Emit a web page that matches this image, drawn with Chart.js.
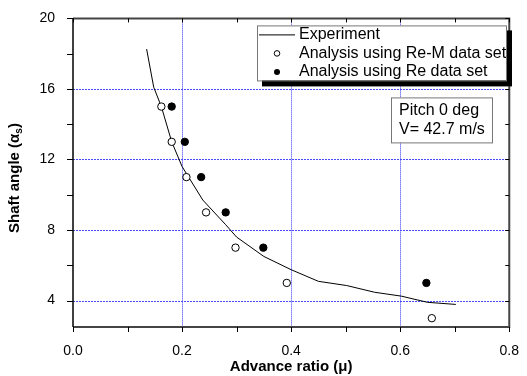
<!DOCTYPE html>
<html>
<head>
<meta charset="utf-8">
<script src="https://cdn.jsdelivr.net/npm/chart.js@4.4.1/dist/chart.umd.min.js"></script>
<style>
  body { margin: 0; background: #fff; }
  #wrap { width: 527px; height: 376px; position: relative; }
</style>
</head>
<body>
<div id="wrap"><canvas id="grafico"></canvas></div>
<script>
// dados
const expMu    = [0.135, 0.148, 0.162, 0.181, 0.200, 0.238, 0.280, 0.300, 0.350, 0.400, 0.450, 0.502, 0.553, 0.602, 0.650, 0.702];
const expAlpha = [18.26, 16.1, 15.0, 13.0, 11.6, 9.7, 8.3, 7.6, 6.5, 5.75, 5.09, 4.85, 4.47, 4.25, 3.9, 3.78];

const remMu    = [0.162, 0.181, 0.208, 0.244, 0.298, 0.392, 0.658];
const remAlpha = [15, 13, 11, 9, 7, 5, 3];

const reMu     = [0.181, 0.205, 0.235, 0.280, 0.349, 0.648];
const reAlpha  = [15, 13, 11, 9, 7, 5];

const xTicks = [0, 0.2, 0.4, 0.6, 0.8];
const xMinor = [0.1, 0.3, 0.5, 0.7];
const yTicks = [4, 8, 12, 16, 20];
const yMinor = [6, 10, 14, 18];

const legendItens = ['Experiment', 'Analysis using Re-M data set', 'Analysis using Re data set'];
const notaLinhas = ['Pitch 0 deg', 'V= 42.7 m/s'];

const pares = (xs, ys) => xs.map((x, i) => ({x: x, y: ys[i]}));

const fonte = '"Liberation Sans", Arial, sans-serif';

// grade pontilhada, moldura, ticks, legenda e titulos
const extras = {
  id: 'extras',
  beforeDatasetsDraw(chart) {
    const ctx = chart.ctx, a = chart.chartArea;
    const sx = chart.scales.x, sy = chart.scales.y;
    ctx.save();
    ctx.strokeStyle = '#2f2fff';
    ctx.lineWidth = 1;
    ctx.setLineDash([1, 1]);
    [0.2, 0.4, 0.6].forEach(v => {
      const px = Math.round(sx.getPixelForValue(v)) + 0.5;
      ctx.beginPath(); ctx.moveTo(px, a.top); ctx.lineTo(px, a.bottom); ctx.stroke();
    });
    ctx.setLineDash([2, 1]);
    ctx.strokeStyle = '#4a4aff';
    [4, 8, 12, 16].forEach(v => {
      const py = Math.round(sy.getPixelForValue(v)) + 0.5;
      ctx.beginPath(); ctx.moveTo(a.left, py); ctx.lineTo(a.right, py); ctx.stroke();
    });
    ctx.restore();
  },
  afterDatasetsDraw(chart) {
    const ctx = chart.ctx, a = chart.chartArea;
    const sx = chart.scales.x, sy = chart.scales.y;
    ctx.save();
    // moldura
    ctx.strokeStyle = '#444';
    ctx.lineWidth = 2;
    ctx.beginPath();
    ctx.moveTo(a.left, a.top); ctx.lineTo(a.right, a.top);
    ctx.lineTo(a.right, a.bottom); ctx.lineTo(a.left, a.bottom);
    ctx.stroke();
    ctx.strokeStyle = '#000';
    ctx.lineWidth = 1.5;
    ctx.beginPath(); ctx.moveTo(a.left, a.top); ctx.lineTo(a.left, a.bottom); ctx.stroke();
    ctx.lineWidth = 1;
    // ticks esquerda/baixo para fora, topo/direita para dentro
    xTicks.concat(xMinor).forEach(v => {
      const px = Math.round(sx.getPixelForValue(v)) + 0.5;
      ctx.beginPath(); ctx.moveTo(px, a.bottom); ctx.lineTo(px, a.bottom + 5); ctx.stroke();
      ctx.beginPath(); ctx.moveTo(px, a.top); ctx.lineTo(px, a.top + 4); ctx.stroke();
    });
    yTicks.concat(yMinor).forEach(v => {
      const py = Math.round(sy.getPixelForValue(v)) + 0.5;
      ctx.beginPath(); ctx.moveTo(a.left - 6, py); ctx.lineTo(a.left, py); ctx.stroke();
      ctx.beginPath(); ctx.moveTo(a.right - 4, py); ctx.lineTo(a.right, py); ctx.stroke();
    });

    // legenda com sombra
    const lx = a.left + 184, ly = a.top + 7, lw = 249, lh = 55;
    ctx.fillStyle = '#000';
    ctx.fillRect(lx + 5, ly + 5, lw + 1, lh + 1);
    ctx.fillStyle = '#fff';
    ctx.fillRect(lx, ly, lw, lh);
    ctx.strokeStyle = '#777';
    ctx.strokeRect(lx + 0.5, ly + 0.5, lw, lh);
    ctx.font = '16px ' + fonte;
    ctx.textBaseline = 'middle';
    ctx.fillStyle = '#000';
    legendItens.forEach((t, i) => {
      const cy = ly + 9.5 + i * 18.5;
      ctx.fillText(t, lx + 42, cy);
    });
    ctx.strokeStyle = '#000';
    ctx.beginPath(); ctx.moveTo(lx + 2, ly + 9.5); ctx.lineTo(lx + 38, ly + 9.5); ctx.stroke();
    ctx.beginPath(); ctx.arc(lx + 20, ly + 28, 2.8, 0, Math.PI * 2);
    ctx.fillStyle = '#fff'; ctx.fill(); ctx.stroke();
    ctx.beginPath(); ctx.arc(lx + 20, ly + 46.5, 3, 0, Math.PI * 2);
    ctx.fillStyle = '#000'; ctx.fill();

    // caixa de anotacao
    const nx = a.left + 318, ny = a.top + 79, nw = 101, nh = 45;
    ctx.fillStyle = '#fff';
    ctx.fillRect(nx, ny, nw, nh);
    ctx.strokeStyle = '#777';
    ctx.strokeRect(nx + 0.5, ny + 0.5, nw, nh);
    ctx.fillStyle = '#000';
    notaLinhas.forEach((t, i) => ctx.fillText(t, nx + 8, ny + 13 + i * 19));

    // titulos dos eixos
    ctx.font = 'bold 15px ' + fonte;
    ctx.textAlign = 'center';
    ctx.fillText('Advance ratio (\u03bc)', (a.left + a.right) / 2, 367);

    ctx.translate(15, 178);
    ctx.rotate(-Math.PI / 2);
    const p1 = 'Shaft angle (\u03b1', p3 = ')';
    ctx.font = 'bold 15px ' + fonte;
    const w1 = ctx.measureText(p1).width;
    ctx.font = 'bold 10px ' + fonte;
    const w2 = ctx.measureText('s').width;
    ctx.font = 'bold 15px ' + fonte;
    const w3 = ctx.measureText(p3).width;
    let x0 = -(w1 + w2 + w3) / 2;
    ctx.textAlign = 'left';
    ctx.fillText(p1, x0, 0);
    ctx.font = 'bold 10px ' + fonte;
    ctx.fillText('s', x0 + w1, 4);
    ctx.font = 'bold 15px ' + fonte;
    ctx.fillText(p3, x0 + w1 + w2, 0);
    ctx.restore();
  }
};

const config = {
  type: 'scatter',
  data: {
    datasets: [{
      label: 'Analysis using Re-M data set',
      data: pares(remMu, remAlpha),
      pointRadius: 3.7,
      backgroundColor: '#fff',
      borderColor: '#000',
      borderWidth: 1,
      order: 1
    }, {
      label: 'Analysis using Re data set',
      data: pares(reMu, reAlpha),
      pointRadius: 3.7,
      backgroundColor: '#000',
      borderColor: '#000',
      borderWidth: 1,
      order: 1
    }, {
      label: 'Experiment',
      data: pares(expMu, expAlpha),
      showLine: true,
      pointRadius: 0,
      borderColor: '#000',
      borderWidth: 1,
      tension: 0,
      order: 3
    }]
  },
  options: {
    responsive: true,
    maintainAspectRatio: false,
    animation: false,
    layout: { padding: { top: 18, right: 15, left: 0, bottom: 0 } },
    plugins: { legend: { display: false }, tooltip: { enabled: false } },
    scales: {
      x: {
        type: 'linear', min: 0, max: 0.8,
        grid: { display: false }, border: { display: false },
        afterBuildTicks: s => { s.ticks = xTicks.map(v => ({value: v})); },
        afterFit: s => { s.height = 49; },
        ticks: {
          color: '#000', padding: 8, maxRotation: 0,
          font: { family: fonte, size: 14 },
          callback: v => Number(v).toFixed(1)
        }
      },
      y: {
        type: 'linear', min: 2.5, max: 20,
        grid: { display: false }, border: { display: false },
        afterBuildTicks: s => { s.ticks = yTicks.map(v => ({value: v})); },
        afterFit: s => { s.width = 73; },
        ticks: {
          color: '#000', padding: 10,
          font: { family: fonte, size: 14 }
        }
      }
    }
  },
  plugins: [extras]
};

window.chartShaft = new Chart(document.getElementById('grafico'), config);
</script>
</body>
</html>
